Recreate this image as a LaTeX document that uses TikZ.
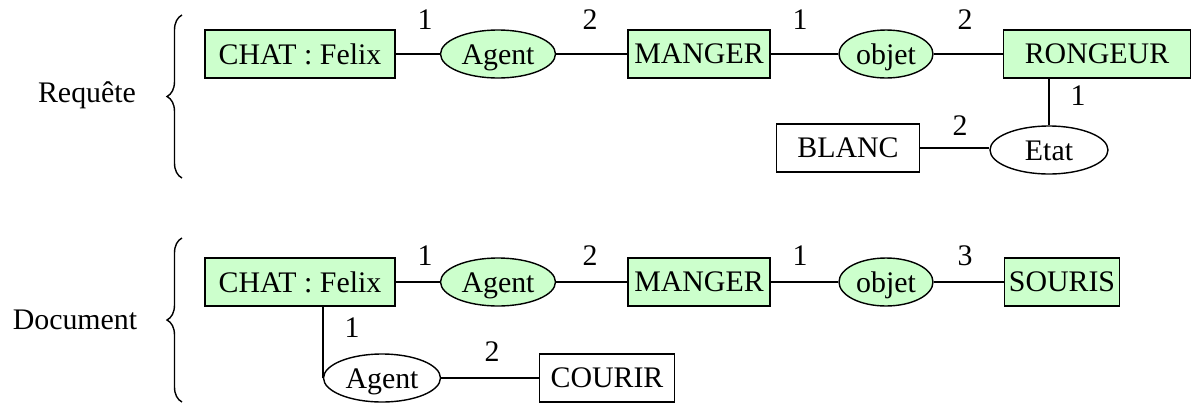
\documentclass[tikz,border=0pt]{standalone}
\usepackage{fontspec}
\setmainfont{Liberation Serif}
\usetikzlibrary{shapes.geometric,decorations.pathreplacing}
\definecolor{conceptfill}{HTML}{CCFFCC}

\begin{document}
\begin{tikzpicture}[x=0.02cm, y=-0.02cm, line width=0.8pt,
    font=\fontsize{17}{20}\selectfont,
    concept/.style={draw, rectangle, minimum height=0.96cm, inner xsep=2pt, inner ysep=0pt},
    relation/.style={draw, ellipse, minimum height=0.96cm, inner sep=0pt, text height=1.25em, text depth=0pt},
    found/.style={fill=conceptfill},
    arity/.style={inner sep=1pt},
    grouping/.style={decorate, decoration={brace, amplitude=0.3cm}}]
            \useasboundingbox (0,0) rectangle (1194,403);

            % Requete graph
            \node (reqlabel) at (87,95) {Requête};
            \draw[grouping] (182,178) -- (182,15);
            \node[concept, found, minimum width=3.8cm] (rchat) at (300,54) {CHAT : Felix};
            \node[relation, found, minimum width=2.3cm] (ragent) at (498,54) {Agent};
            \node[concept, found, minimum width=2.84cm] (rmanger) at (699,54) {MANGER};
            \node[relation, found, minimum width=1.88cm] (robjet) at (886,54) {objet};
            \node[concept, found, minimum width=3.74cm] (rrongeur) at (1097,54) {RONGEUR};
            \node[relation, minimum width=2.36cm] (retat) at (1049,150) {Etat};
            \node[concept, minimum width=2.86cm] (rblanc) at (848,148) {BLANC};

            \draw (rchat) -- (ragent);
            \draw (ragent) -- (rmanger);
            \draw (rmanger) -- (robjet);
            \draw (robjet) -- (rrongeur);
            \draw (retat.north) -- (retat.north |- rrongeur.south);
            \draw (rblanc.east) -- (rblanc.east -| retat.west);

            \node[arity] (rn1) at (425,20) {1};
            \node[arity] (rn2) at (590,20) {2};
            \node[arity] (rn3) at (800,20) {1};
            \node[arity] (rn4) at (965,20) {2};
            \node[arity] (rn5) at (1078,96) {1};
            \node[arity] (rn6) at (960,126) {2};

            % Document graph
            \node (doclabel) at (75,320) {Document};
            \draw[grouping] (182,402) -- (182,238);
            \node[concept, found, minimum width=3.8cm] (dchat) at (300,282) {CHAT : Felix};
            \node[relation, found, minimum width=2.3cm] (dagent) at (498,282) {Agent};
            \node[concept, found, minimum width=2.84cm] (dmanger) at (699,282) {MANGER};
            \node[relation, found, minimum width=1.88cm] (dobjet) at (886,282) {objet};
            \node[concept, found, minimum width=2.3cm] (dsouris) at (1062,282) {SOURIS};
            \node[relation, minimum width=2.34cm] (dagentb) at (382,378) {Agent};
            \node[concept, minimum width=2.7cm] (dcourir) at (607,378) {COURIR};

            \draw (dchat) -- (dagent);
            \draw (dagent) -- (dmanger);
            \draw (dmanger) -- (dobjet);
            \draw (dobjet) -- (dsouris);
            \draw (dagentb.west) -- (dagentb.west |- dchat.south);
            \draw (dagentb) -- (dcourir);

            \node[arity] (dn1) at (425,256) {1};
            \node[arity] (dn2) at (590,256) {2};
            \node[arity] (dn3) at (800,256) {1};
            \node[arity] (dn4) at (965,256) {3};
            \node[arity] (dn5) at (352,328) {1};
            \node[arity] (dn6) at (492,352) {2};
        \end{tikzpicture}
\end{document}
